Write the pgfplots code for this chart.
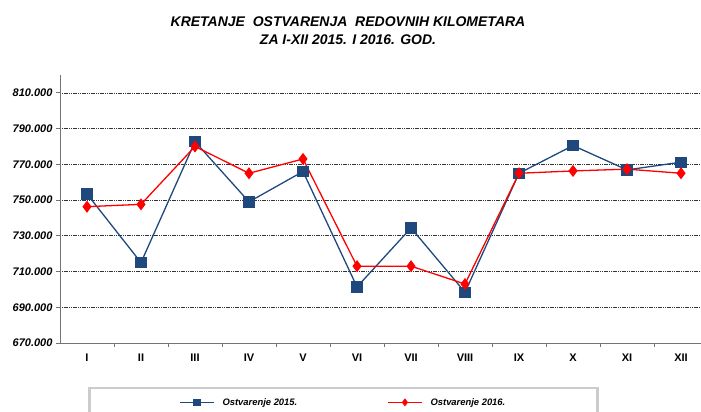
\documentclass[border=0pt]{standalone}
\usepackage{pgfplots}
\pgfplotsset{compat=1.18}
\usepackage{fontspec}
\setmainfont{Liberation Sans}
\definecolor{blu}{HTML}{1F497D}
\definecolor{rd}{HTML}{FF0000}
\begin{document}
\begin{tikzpicture}
\useasboundingbox (0pt,0pt) rectangle (701pt,412pt);
\clip (0pt,0pt) rectangle (701pt,412pt);
\node[font=\bfseries\itshape\fontsize{14}{18}\selectfont, align=center] at (348pt,381pt) {KRETANJE\ \ OSTVARENJA\ \ REDOVNIH KILOMETARA\\ZA I-XII 2015. I 2016. GOD.};
\begin{axis}[
  at={(60pt,69pt)}, anchor=south west,
  scale only axis, width=641pt, height=268pt,
  xmin=-0.5, xmax=11.37, ymin=670, ymax=820,
  axis x line*=bottom, axis y line*=left,
  axis line style={black!55, line width=0.8pt},
  xtick={0,...,11},
  xticklabels={I,II,III,IV,V,VI,VII,VIII,IX,X,XI,XII},
  minor xtick={0.5,1.5,...,10.5},
  major x tick style={draw=none},
  minor x tick style={black!55, line width=0.8pt},
  minor tick length=4pt,
  ytick={670,690,...,810},
  yticklabels={670.000,690.000,710.000,730.000,750.000,770.000,790.000,810.000},
  major y tick style={black!55, line width=0.8pt},
  major tick length=4pt,
  tick align=outside,
  ymajorgrids,
  grid style={black!80, line width=0.6pt, dash pattern=on 1.2pt off 0.6pt},
  xticklabel style={font=\bfseries\fontsize{11}{13}\selectfont, yshift=-3pt},
  yticklabel style={font=\bfseries\itshape\fontsize{11}{13}\selectfont},
  /pgf/number format/assume math mode=true,
  legend columns=2,
  legend image code/.code={\draw[mark repeat=2,mark phase=2,#1,mark size=3pt] plot coordinates {(0pt,0pt) (17pt,0pt) (34pt,0pt)};},
  legend style={at={(0.0437,-0.164)}, anchor=north west,
    draw=black!20, line width=2.5pt, inner xsep=90pt, inner ysep=8pt,
    font=\bfseries\itshape\fontsize{9.4}{11}\selectfont,
    /tikz/every odd column/.append style={column sep=6pt},
    /tikz/every even column/.append style={column sep=88pt}},
]
\addplot[blu, line width=1.3pt, mark=square*, mark size=5pt, mark options={solid, fill=blu, draw=blu}] coordinates {
(0,753.4) (1,715) (2,782.7) (3,749) (4,766) (5,701.4) (6,734.4) (7,698.4) (8,765) (9,780.5) (10,766.9) (11,771.2)};
\addlegendentry{Ostvarenje 2015.}
\addplot[rd, line width=1.3pt, mark=diamond*, mark size=5pt, mark options={solid, fill=rd, draw=rd}] coordinates {
(0,746.3) (1,747.6) (2,780) (3,765) (4,773) (5,713) (6,713) (7,703) (8,765) (9,766.3) (10,767.3) (11,765)};
\addlegendentry{Ostvarenje 2016.}
\end{axis}
\end{tikzpicture}
\end{document}
